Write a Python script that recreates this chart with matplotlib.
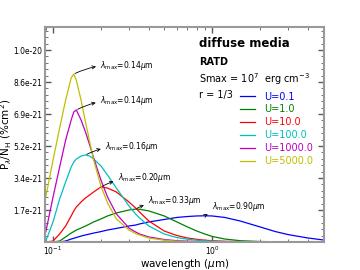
import matplotlib
matplotlib.use("Agg")
import matplotlib.pyplot as plt
from matplotlib.ticker import FixedLocator, FixedFormatter, AutoMinorLocator
import numpy as np

# wavelength grid (micron) and P_lambda/N_H curves in units of 1e-21 %cm^2
wavelength = [0.09, 0.1, 0.11, 0.12, 0.13, 0.135, 0.14, 0.15, 0.16, 0.17, 0.18,
              0.2, 0.22, 0.25, 0.3, 0.33, 0.35, 0.4, 0.5, 0.6, 0.7, 0.8, 0.9,
              1.0, 1.2, 1.5, 2.0, 2.5, 3.0, 4.0, 5.0]

u_01 = [0, 0, 0, 0.054, 0.16, 0.20, 0.24, 0.32, 0.38, 0.43, 0.48,
        0.56, 0.645, 0.73, 0.86, 0.91, 0.97, 1.08, 1.21, 1.32, 1.37, 1.40, 1.41,
        1.40, 1.32, 1.13, 0.81, 0.56, 0.40, 0.215, 0.11]
u_1 = [0, 0, 0.054, 0.27, 0.48, 0.56, 0.645, 0.75, 0.86, 0.97, 1.08,
       1.24, 1.40, 1.56, 1.72, 1.77, 1.76, 1.67, 1.40, 1.08, 0.81, 0.59, 0.43,
       0.30, 0.16, 0.07, 0.027, 0.013, 0.006, 0.003, 0.001]
u_10 = [0, 0.05, 0.43, 0.86, 1.40, 1.67, 1.88, 2.15, 2.37, 2.53, 2.69,
        2.96, 2.90, 2.69, 2.15, 1.83, 1.61, 1.13, 0.59, 0.35, 0.215, 0.145, 0.097,
        0.07, 0.038, 0.019, 0.008, 0.004, 0.003, 0.001, 0.0005]
u_100 = [0.05, 1.08, 2.31, 3.23, 4.03, 4.30, 4.46, 4.62, 4.68, 4.62, 4.46,
         4.09, 3.60, 2.90, 1.94, 1.51, 1.29, 0.86, 0.43, 0.24, 0.15, 0.097, 0.065,
         0.048, 0.027, 0.016, 0.008, 0.004, 0.003, 0.001, 0.0005]
u_1000 = [0.54, 2.42, 4.03, 5.48, 6.56, 6.99, 7.10, 6.56, 5.91, 5.21, 4.52,
          3.33, 2.42, 1.51, 0.75, 0.54, 0.43, 0.27, 0.134, 0.07, 0.043, 0.027, 0.019,
          0.013, 0.008, 0.004, 0.002, 0.001, 0.0005, 0.0003, 0]
u_5000 = [2.42, 4.41, 6.13, 7.63, 8.82, 9.03, 8.71, 7.63, 6.45, 5.38, 4.41,
          3.01, 2.10, 1.24, 0.645, 0.457, 0.376, 0.215, 0.097, 0.048, 0.027, 0.016, 0.011,
          0.008, 0.005, 0.003, 0.002, 0.001, 0.0005, 0.0003, 0]

series = [u_01, u_1, u_10, u_100, u_1000, u_5000]
labels = ["U=0.1", "U=1.0", "U=10.0", "U=100.0", "U=1000.0", "U=5000.0"]
colors = ["b", "g", "r", "c", "m", "y"]
lam_max = ["0.90", "0.33", "0.20", "0.16", "0.14", "0.14"]
text_offsets = [(5, 6.5), (9, 6), (12, 6.5), (14, 6), (17, 6.5), (19, 6)]

ytick_vals = [1.72e-21, 3.44e-21, 5.16e-21, 6.88e-21, 8.6e-21, 1.032e-20]
ytick_labels = ["1.7e-21", "3.4e-21", "5.2e-21", "6.9e-21", "8.6e-21", "1.0e-20"]

fig = plt.figure(figsize=(3.6, 2.7), dpi=100)
ax = fig.add_axes([0.125, 0.1037, 0.775, 0.7963])

lam = np.array(wavelength)
for vals, lab, col, lm, off in zip(series, labels, colors, lam_max, text_offsets):
    y = np.array(vals) * 1e-21
    ax.plot(lam, y, color=col, lw=0.9, label=lab)
    i = np.argmax(y)
    ax.annotate(r"$\lambda_{\rm max}$=" + lm + r"$\mu$m", xy=(lam[i], y[i]),
                xytext=off, textcoords="offset points", fontsize=5.5,
                ha="left", va="center",
                arrowprops=dict(arrowstyle="<-", color="k", lw=0.6,
                                shrinkA=1, shrinkB=1,
                                connectionstyle="arc3,rad=0.15"))

ax.set_xscale("log")
ax.set_xlim(0.089, 5.05)
ax.set_ylim(0, 1.156e-20)
ax.yaxis.set_major_locator(FixedLocator(ytick_vals))
ax.yaxis.set_major_formatter(FixedFormatter(ytick_labels))
ax.yaxis.set_minor_locator(AutoMinorLocator(5))

ax.tick_params(which="both", direction="in", top=True, right=True,
               labelsize=5.5, color="0.35", pad=2)
ax.tick_params(which="major", length=4, width=1.0)
ax.tick_params(which="minor", length=2, width=0.6)
for sp in ax.spines.values():
    sp.set_color("0.6")
    sp.set_linewidth(1.5)

ax.set_xlabel(r"wavelength ($\mu$m)", fontsize=7.5, labelpad=0)
ax.set_ylabel(r"P$_\lambda$/N$_{\rm H}$ (%cm$^2$)", fontsize=7.5)
ax.yaxis.set_label_coords(-0.111, 0.5)

ax.text(0.552, 0.921, "diffuse media", transform=ax.transAxes, fontsize=8.5,
        fontweight="bold", va="center")
ax.text(0.552, 0.837, "RATD", transform=ax.transAxes, fontsize=7,
        fontweight="bold", va="center")
ax.text(0.552, 0.758, r"Smax = 10$^7$  erg cm$^{-3}$", transform=ax.transAxes,
        fontsize=7, va="center")
ax.text(0.552, 0.684, "r = 1/3", transform=ax.transAxes, fontsize=7,
        va="center")

ax.legend(loc="upper left", bbox_to_anchor=(0.70, 0.70), frameon=False,
          fontsize=7, labelcolor="linecolor", handlelength=1.5,
          handletextpad=1.0, labelspacing=0.3, borderpad=0, borderaxespad=0)

fig.savefig("out.png", dpi=100)
